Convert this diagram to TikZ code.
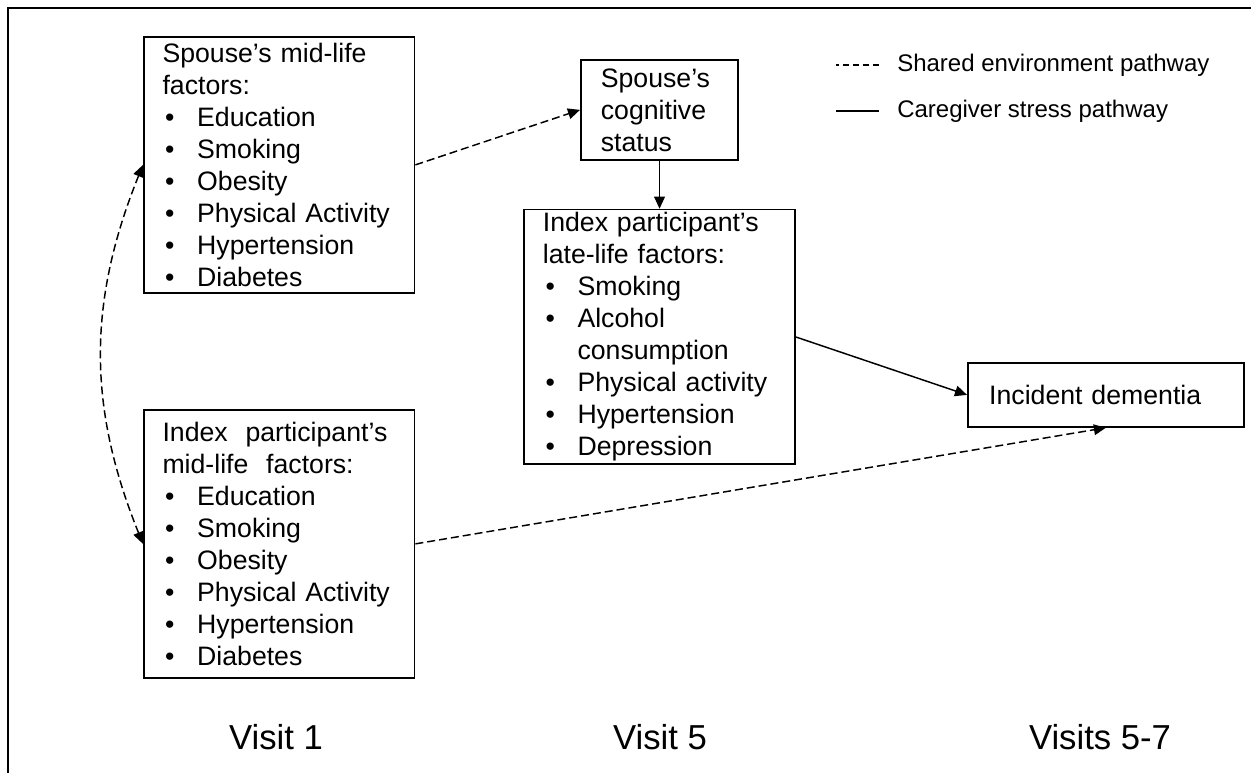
\documentclass[tikz,border=0pt]{standalone}
\usepackage{fontspec}
\setmainfont{Liberation Sans}
\usetikzlibrary{positioning,arrows.meta}
\newcommand{\itm}{\makebox[26pt][l]{\hspace{2pt}\textbullet}}

\begin{document}
\begin{tikzpicture}[
x=0.75pt, y=-0.75pt,
node distance=36pt,
box/.style={draw, line width=1.3pt, anchor=north west, align=left, inner xsep=14pt, inner ysep=2pt, font=\fontsize{20}{24}\selectfont},
arrow/.style={-{Triangle[length=9pt,width=8pt]}, line width=1.1pt},
dasharrow/.style={arrow, dash pattern=on 6pt off 3pt},
legend/.style={anchor=west, inner sep=0pt, font=\fontsize{18}{22}\selectfont},
visit/.style={font=\fontsize{26}{30}\selectfont}
]
\useasboundingbox (0,0) rectangle (1251,772);
\clip (0,0) rectangle (1251,772);
\draw[line width=1.6pt] (8,790) |- (1270,8);

\node[box, text width=175pt, minimum height=192pt] (spouse) at (143,36) {Spouse's mid-life\\factors:\\\itm Education\\\itm Smoking\\\itm Obesity\\\itm Physical Activity\\\itm Hypertension\\\itm Diabetes};
\node[box, text width=175pt, minimum height=201pt] (index) at (143,409) {Index\ \ participant's\\mid-life\ \ factors:\\\itm Education\\\itm Smoking\\\itm Obesity\\\itm Physical Activity\\\itm Hypertension\\\itm Diabetes};
\node[box, inner xsep=15pt, text width=88pt, minimum height=75pt] (cog) at (580,59) {Spouse's\\cognitive\\status};
\node[box, text width=175pt, minimum height=191pt, below=of cog] (late) {Index participant's\\late-life factors:\\\itm Smoking\\\itm Alcohol\\\hspace*{26pt}consumption\\\itm Physical activity\\\itm Hypertension\\\itm Depression};
\node[box, inner xsep=16pt, text width=175pt, minimum height=48pt] (incident) at (967,362) {Incident dementia};

\node[legend] (shared) at (897,65) {Shared environment pathway};
\node[legend] (stress) at (897,111) {Caregiver stress pathway};
\draw[dash pattern=on 4.5pt off 3pt, line width=0.8pt] ([xshift=-13.5pt]shared.west) -- ++(-32pt,0);
\draw[line width=0.8pt] ([xshift=-13.5pt]stress.west) -- ++(-32pt,0);

\node[visit] (v1) at (276,737) {Visit 1};
\node[visit] (v5) at (660,737) {Visit 5};
\node[visit] (v57) at (1100,737) {Visits 5-7};

\draw[dasharrow] (spouse.east) -- (cog.west);
\draw[arrow] (cog) -- (late);
\draw[arrow] (late.east) -- (incident.west);
\draw[dasharrow] (index.east) -- (incident.south);
\draw[dasharrow, {Triangle[length=9pt,width=8pt]}-{Triangle[length=9pt,width=8pt]}] (spouse.west) to[out=-112,in=112] (index.west);
\end{tikzpicture}
\end{document}
